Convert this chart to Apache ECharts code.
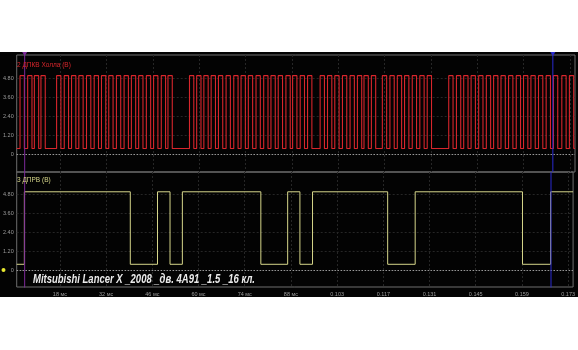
<!DOCTYPE html>
<html><head><meta charset="utf-8">
<script src="https://cdn.jsdelivr.net/npm/echarts@6/dist/echarts.min.js"></script>
<style>html,body{margin:0;padding:0;background:#fff}#c{width:578px;height:350px}</style>
</head><body><div id="c"></div>
<script>
// ---- data (time in ms, voltage in V) ----
const xTickValues = [18.6, 32.6, 46.6, 60.6, 74.6, 88.6, 102.6, 116.6, 130.6, 144.6, 158.6, 172.6];
const xTickLabels = ['18 мс','32 мс','46 мс','60 мс','74 мс','88 мс','0.103','0.117','0.131','0.145','0.159','0.173'];
const yTickValues = [0, 1.2, 2.4, 3.6, 4.8];
const yTickLabels = ['0', '1.20', '2.40', '3.60', '4.80'];
const redRise = [6.50,8.81,10.83,12.82,17.55,19.86,22.06,24.26,26.58,28.90,31.10,33.30,35.61,37.93,40.13,42.33,44.65,46.84,49.16,51.18,
  57.68,59.85,62.02,64.22,66.42,68.73,71.05,73.25,75.45,77.77,80.09,82.28,84.48,86.80,88.82,91.11,93.34,
  97.13,99.36,101.56,103.87,106.17,108.39,110.38,112.61,115.92,118.21,120.44,122.63,124.95,127.24,129.47,
  135.97,138.29,140.49,142.72,145.01,147.32,149.52,151.75,154.04,156.36,158.56,160.79,163.08,165.39,167.59,170.12,172.41];
const redFall = [7.80,10.11,12.13,14.12,18.85,21.16,23.36,25.56,27.88,30.20,32.40,34.60,36.91,39.23,41.43,43.63,45.95,48.14,50.46,52.48,
  58.98,61.15,63.32,65.52,67.72,70.03,72.35,74.55,76.75,79.07,81.39,83.58,85.78,88.10,90.12,92.41,94.64,
  98.43,100.66,102.86,105.17,107.47,109.69,111.68,113.91,117.22,119.51,121.74,123.93,126.25,128.54,130.77,
  137.27,139.59,141.79,144.02,146.31,148.62,150.82,153.05,155.34,157.66,159.86,162.09,164.38,166.69,168.89,171.42,173.71];
const redHigh = 4.95, redLow = 0.35;
const yelEdges = [7.82, 39.92, 48.17, 51.96, 55.70, 79.48, 87.61, 91.32, 95.14, 117.91, 126.25, 158.77, 167.29]; // toggles, starting low
const yelHigh = 4.96, yelLow = 0.38;
const tStart = 5.5, tEnd = 174.1;
const cursorA = 7.91, cursorB = 167.41;
const title1 = '2 ДПКВ Холла (В)', title2 = '3 ДПРВ (В)';
const watermark = 'Mitsubishi Lancer X _2008 _дв. 4A91 _1.5 _16 кл.';
const y0Range = [-1.137, 6.253], y1Range = [-1.055, 6.21];

// ---- build step traces ----
function pulses(rise, fall, hi, lo) {
  const d = [[tStart, lo]];
  for (let i = 0; i < rise.length; i++) {
    d.push([rise[i], lo], [rise[i], hi]);
    if (fall[i] < tEnd) d.push([fall[i], hi], [fall[i], lo]); else d.push([tEnd, hi]);
  }
  if (d[d.length - 1][0] < tEnd) d.push([tEnd, d[d.length - 1][1]]);
  return d;
}
function toggles(edges, hi, lo) {
  let s = lo; const d = [[tStart, s]];
  edges.forEach(e => { d.push([e, s]); s = (s === lo ? hi : lo); d.push([e, s]); });
  d.push([tEnd, s]);
  return d;
}
const redData = pulses(redRise, redFall, redHigh, redLow);
const yelData = toggles(yelEdges, yelHigh, yelLow);

function nearestLabel(v, vals, labels) {
  let bi = 0; vals.forEach((x, i) => { if (Math.abs(x - v) < Math.abs(vals[bi] - v)) bi = i; });
  return labels[bi];
}
const labelColor = '#9c9c9c', gridColor = '#262626', borderColor = '#6e6e6e';
function xAxis(idx, showLabel) {
  return {
    type: 'value', gridIndex: idx, min: tStart, max: tEnd,
    axisLine: { show: false },
    axisTick: { show: false, customValues: xTickValues },
    axisLabel: { show: showLabel, customValues: xTickValues, color: labelColor, fontSize: 5.5, margin: 4,
      fontFamily: 'Liberation Sans', formatter: v => nearestLabel(v, xTickValues, xTickLabels) },
    splitLine: { show: true, lineStyle: { color: gridColor, width: 1, type: [2, 2] } }
  };
}
function yAxis(idx, r) {
  return {
    type: 'value', gridIndex: idx, min: r[0], max: r[1],
    axisLine: { show: false },
    axisTick: { show: false, customValues: yTickValues },
    axisLabel: { customValues: yTickValues, color: labelColor, fontSize: 5.5, margin: 3,
      fontFamily: 'Liberation Sans', formatter: v => nearestLabel(v, yTickValues, yTickLabels) },
    splitLine: { show: true, lineStyle: { color: gridColor, width: 1, type: [2, 2] } }
  };
}
const zeroMark = {
  silent: true, animation: false, symbol: ['none', 'none'], label: { show: false },
  lineStyle: { color: '#cfcfcf', type: [1, 2], width: 1, opacity: 1 },
  data: [{ yAxis: 0 }]
};
function cursor(c, grid, r, color, top) {
  return {
    type: 'line', xAxisIndex: grid, yAxisIndex: grid, silent: true, z: 5,
    showSymbol: true, symbol: 'none',
    lineStyle: { color: color, width: 1, opacity: 1 },
    itemStyle: { color: color },
    data: [
      { value: [c, r[0]], symbol: 'none' },
      { value: [c, r[1]], symbol: top ? 'triangle' : 'none', symbolSize: [5, 4], symbolRotate: 180, symbolOffset: [0, -1] }
    ]
  };
}
const purple = '#7d2a9a', blue = '#2a2ad0';
const chart = echarts.init(document.getElementById('c'), null, { renderer: 'canvas' });
chart.setOption({
  backgroundColor: '#ffffff',
  animation: false,
  grid: [
    { left: 15, right: 3, top: 55, height: 117, show: true, borderColor: borderColor, borderWidth: 1, backgroundColor: 'transparent' },
    { left: 15, right: 3, top: 172, height: 115, show: true, borderColor: borderColor, borderWidth: 1, backgroundColor: 'transparent' }
  ],
  xAxis: [xAxis(0, false), xAxis(1, true)],
  yAxis: [yAxis(0, y0Range), yAxis(1, y1Range)],
  series: [
    { type: 'line', xAxisIndex: 0, yAxisIndex: 0, data: redData, showSymbol: false, symbol: 'none',
      lineStyle: { color: '#d8262c', width: 1.1 }, markLine: zeroMark, z: 3 },
    { type: 'line', xAxisIndex: 1, yAxisIndex: 1, data: yelData, showSymbol: false, symbol: 'none',
      lineStyle: { color: '#d6d68a', width: 1 }, markLine: zeroMark, z: 3 },
    cursor(cursorA, 0, y0Range, purple, true),
    cursor(cursorA, 1, [y1Range[0] - 0.3, y1Range[1]], purple, false),
    cursor(cursorB, 0, y0Range, blue, true),
    cursor(cursorB, 1, [y1Range[0] - 0.6, y1Range[1]], blue, false)
  ],
  graphic: [
    { type: 'rect', z: -100, silent: true, shape: { x: 0, y: 52, width: 578, height: 245 }, style: { fill: '#030303' } },
    { type: 'text', z: 100, left: 17, top: 62, style: { text: title1, fill: '#d8262c', fontSize: 6.5, fontFamily: 'Liberation Sans' } },
    { type: 'text', z: 100, left: 17, top: 177, style: { text: title2, fill: '#d6d68a', fontSize: 6.5, fontFamily: 'Liberation Sans' } },
    { type: 'circle', z: 100, shape: { cx: 3.5, cy: 270, r: 2 }, style: { fill: '#e8e830' } },
    { type: 'text', id: 'wm', z: 100, x: 33, y: 286.5, scaleX: 1,
      style: { text: watermark, fill: '#ececec', fontSize: 12.5, fontStyle: 'italic', fontWeight: 'bold', fontFamily: 'Liberation Sans', verticalAlign: 'bottom' } }
  ]
});
// fit watermark width to the reference (about 222 px)
const ctx = document.createElement('canvas').getContext('2d');
ctx.font = 'italic bold 12.5px "Liberation Sans"';
const w = ctx.measureText(watermark).width;
chart.setOption({ graphic: [{ id: 'wm', scaleX: 222 / w }] });
</script></body></html>
